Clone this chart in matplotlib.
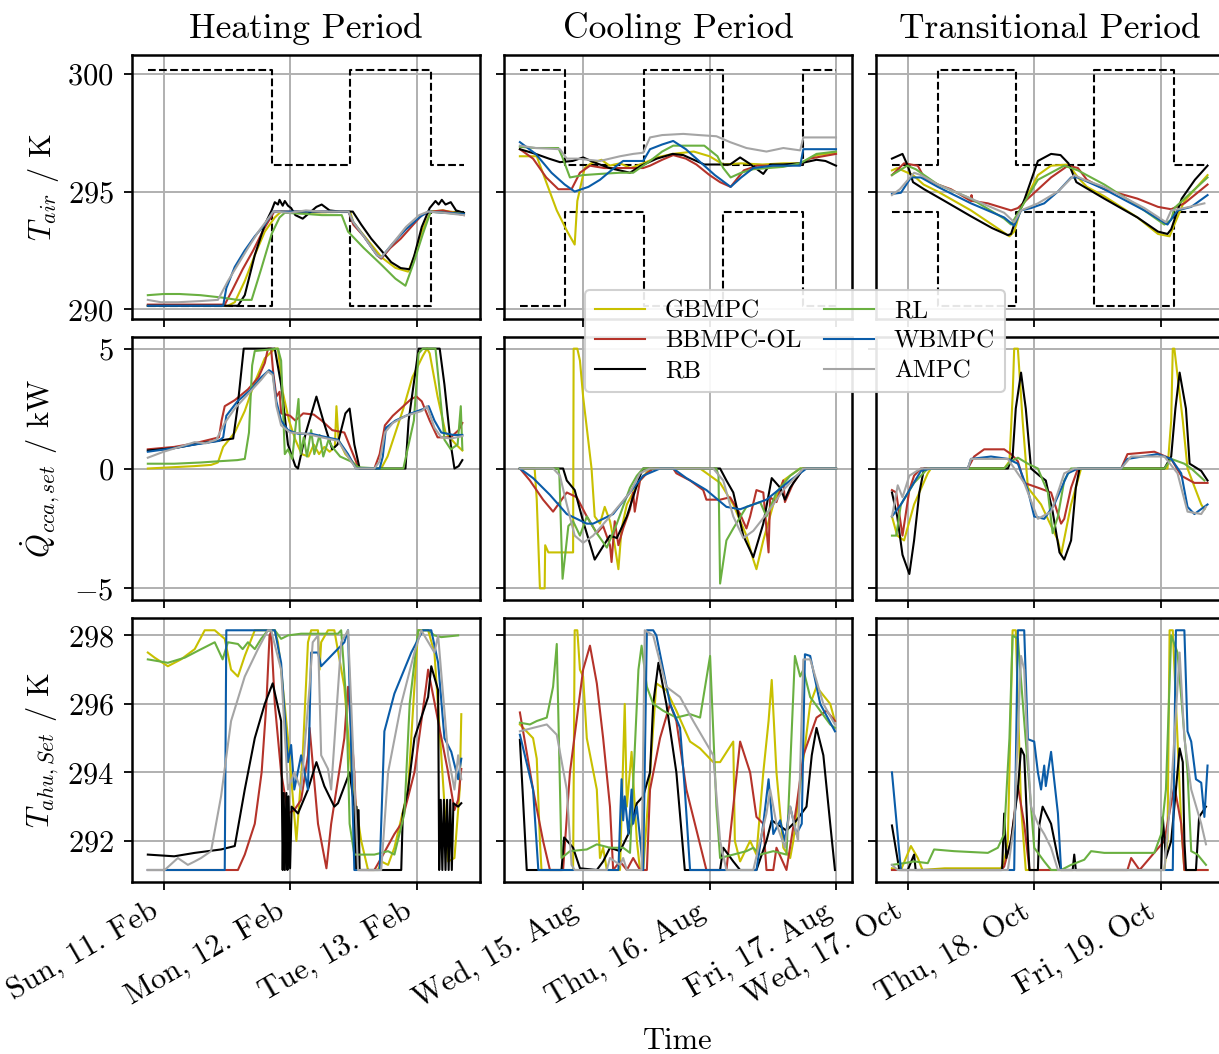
import numpy as np
import matplotlib
matplotlib.use("Agg")
import matplotlib.pyplot as plt
import matplotlib.dates as mdates

plt.rcParams.update({
    "font.family": "serif",
    "font.serif": ["cmr10"],
    "mathtext.fontset": "cm",
    "axes.formatter.use_mathtext": True,
    "axes.linewidth": 1.8,
    "xtick.major.width": 1.3,
    "ytick.major.width": 1.3,
    "xtick.major.size": 6,
    "ytick.major.size": 6,
    "xtick.major.pad": 5,
    "ytick.major.pad": 7,
    "xtick.labelsize": 22,
    "ytick.labelsize": 22,
})

# controllers and colours
controllers = ["GBMPC", "BBMPC-OL", "RB", "RL", "WBMPC", "AMPC"]
colors = ["#c8c000", "#b5332a", "#000000", "#6ab041", "#0a5ca8", "#a5a5a5"]

# start of each period, all series are given in hours after this start
starts = ["2018-02-10T21:00", "2018-08-14T12:00", "2018-10-16T21:00"]
titles = ["Heating Period", "Cooling Period", "Transitional Period"]

# comfort bounds (hour, value), step after
upper_heat = [(0, 300.15), (23.5, 296.15), (38.4, 300.15), (53.7, 296.15), (60, 296.15)]
lower_heat = [(0, 290.15), (23.5, 294.15), (38.4, 290.15), (53.7, 294.15), (60, 294.15)]
upper_cool = [(0, 300.15), (8.5, 296.15), (23.6, 300.15), (38.5, 296.15), (53.7, 300.15), (60, 300.15)]
lower_cool = [(0, 290.15), (8.5, 294.15), (23.6, 290.15), (38.5, 294.15), (53.7, 290.15), (60, 290.15)]
upper_trans = [(0, 296.15), (8.7, 300.15), (23.5, 296.15), (38.4, 300.15), (53.5, 296.15), (60, 296.15)]
lower_trans = [(0, 294.15), (8.7, 290.15), (23.5, 294.15), (38.4, 290.15), (53.5, 294.15), (60, 294.15)]

# ---------------- room air temperature / K ----------------
tair_heat = {
    "GBMPC": [(0, 290.15), (15.2, 290.15), (16.5, 290.3), (18.4, 291.2), (20.3, 292.3), (22.2, 293.3), (24.1, 293.9),
              (25.3, 294.15), (30, 294.1), (38.4, 294.15), (39.0, 293.7), (41.5, 293.0), (44.4, 292.2), (47, 291.76),
              (49.4, 291.6), (50.5, 292.2), (52, 293.3), (53.7, 294.15), (56, 294.2), (60, 294.05)],
    "BBMPC-OL": [(0, 290.2), (14.6, 290.2), (16.0, 290.8), (18.0, 291.7), (20.0, 292.5), (22.0, 293.4), (24.0, 294.15),
                 (30, 294.15), (38.1, 294.15), (39.0, 293.6), (41.0, 293.1), (43.5, 292.3), (44.3, 292.15), (46.0, 292.6),
                 (48.0, 293.0), (50.0, 293.5), (52.0, 294.0), (53.8, 294.15), (56, 294.2), (60, 294.0)],
    "RB": [(0, 290.15), (17.1, 290.15), (18.4, 290.6), (20.3, 292.3), (22.2, 293.6), (23.5, 294.2), (24.1, 294.55),
           (24.7, 294.45), (25.0, 294.65), (25.6, 294.4), (26.0, 294.6), (26.6, 294.4), (27.2, 294.3), (28.0, 294.0),
           (29.4, 293.85), (30.7, 294.1), (32.0, 294.35), (33.0, 294.45), (34.5, 294.2), (36.5, 294.15), (38.9, 294.15),
           (40.5, 293.6), (42.4, 293.0), (44.3, 292.5), (46.2, 292.0), (48.0, 291.75), (49.7, 291.7), (50.6, 292.3),
           (52.0, 293.5), (53.5, 294.3), (54.6, 294.6), (55.2, 294.45), (55.8, 294.65), (56.5, 294.45), (57.5, 294.55),
           (58.5, 294.2), (60, 294.1)],
    "RL": [(0, 290.6), (3, 290.65), (6, 290.65), (10, 290.6), (14, 290.5), (17, 290.4), (19.7, 290.4), (21.5, 291.7),
           (23.5, 293.2), (25.0, 293.9), (26.0, 294.1), (30, 294.05), (33, 294.0), (36.8, 294.0), (38.0, 293.3),
           (41.0, 292.6), (44.3, 291.9), (47.0, 291.3), (48.9, 291.0), (50.5, 292.0), (52.2, 293.2), (53.7, 294.15),
           (56, 294.1), (60, 294.05)],
    "WBMPC": [(0, 290.15), (14.3, 290.15), (14.9, 290.9), (16.5, 291.8), (18.4, 292.5), (20.3, 293.1), (22.2, 293.6),
              (23.8, 294.15), (38.1, 294.15), (39.0, 293.7), (41.0, 293.1), (43.5, 292.3), (44.3, 292.2), (46.5, 292.8),
              (49.0, 293.4), (51.5, 293.9), (53.2, 294.15), (60, 294.05)],
    "AMPC": [(0, 290.4), (2.5, 290.3), (5.7, 290.3), (10, 290.35), (13.3, 290.4), (15.2, 291.2), (17.1, 291.9),
             (19.0, 292.6), (21.0, 293.3), (23.0, 293.9), (23.8, 294.15), (27, 294.1), (30, 294.2), (33, 294.15),
             (38.1, 294.15), (39.0, 293.7), (41.0, 293.1), (43.5, 292.3), (44.3, 292.2), (46.5, 292.8), (49.0, 293.5),
             (51.5, 294.0), (53.2, 294.15), (56, 294.1), (60, 294.0)],
}

tair_cool = {
    "GBMPC": [(0, 296.5), (3.2, 296.5), (5.0, 295.4), (7.0, 294.2), (9.0, 293.3), (10.4, 292.75), (10.9, 294.6),
              (12.3, 296.0), (13.5, 296.2), (15.5, 296.35), (17, 296.1), (19, 296.2), (21, 296.0), (23.4, 296.2),
              (26, 296.45), (29, 296.6), (33, 296.7), (36, 296.5), (38.6, 296.15), (42, 296.2), (46, 296.15),
              (50, 296.2), (53.2, 296.2), (56.3, 296.55), (60, 296.65)],
    "BBMPC-OL": [(0, 296.8), (2.5, 296.4), (5, 295.6), (7.3, 295.1), (9.8, 295.1), (11.4, 295.8), (13.3, 296.1),
                 (16, 296.0), (20, 296.0), (23.4, 296.0), (24.7, 296.1), (27, 296.35), (29.1, 296.55), (31.5, 296.4),
                 (33.5, 296.15), (36, 295.7), (38, 295.4), (40, 295.2), (42.5, 295.9), (45, 296.1), (50, 296.1),
                 (53.2, 296.15), (55, 296.4), (60, 296.6)],
    "RB": [(0, 296.8), (3, 296.6), (5.5, 296.4), (7.6, 296.25), (10, 296.3), (12, 296.45), (14, 296.25), (17, 296.0),
           (20.9, 295.8), (23, 296.1), (26, 296.4), (29, 296.6), (31, 296.55), (33.5, 296.3), (35, 296.15),
           (39.9, 296.15), (41.8, 296.45), (43.5, 296.2), (46.2, 295.75), (47.5, 296.15), (50, 296.15),
           (53.2, 296.2), (56.3, 296.35), (58, 296.3), (60, 296.1)],
    "RL": [(0, 296.9), (3, 296.85), (7.3, 296.85), (8.0, 296.5), (9.5, 295.6), (12, 295.7), (15.2, 295.75),
           (19, 295.8), (21.5, 295.8), (23.4, 296.1), (24.7, 296.3), (27, 296.7), (29.1, 296.95), (35, 296.95),
           (37.5, 296.5), (38.6, 296.0), (40, 295.6), (42, 295.8), (44.3, 295.95), (50, 296.05), (53.2, 296.2),
           (56.3, 296.6), (60, 296.7)],
    "WBMPC": [(0, 297.1), (3, 296.6), (6, 295.8), (8.5, 295.3), (10.4, 295.0), (13, 295.2), (15.2, 295.5),
              (18.4, 296.1), (19.6, 296.3), (23.4, 296.3), (24.7, 296.8), (27, 297.0), (29.1, 297.15), (31.5, 296.8),
              (34, 296.3), (37, 295.7), (40, 295.2), (42, 295.6), (44.3, 296.0), (48, 296.1), (53.2, 296.1),
              (53.8, 296.8), (60, 296.8)],
    "AMPC": [(0, 296.95), (3, 296.85), (7.6, 296.8), (8.9, 296.4), (10.8, 296.4), (15.2, 296.3), (19, 296.5),
             (21.5, 296.6), (23.4, 296.65), (24.7, 297.3), (27, 297.4), (31, 297.45), (34, 297.4), (37.3, 297.35),
             (39.9, 297.1), (43, 296.85), (46.8, 296.7), (50, 296.85), (53.2, 296.75), (53.8, 297.3), (60, 297.3)],
}

tair_trans = {
    "GBMPC": [(0, 295.9), (1.0, 296.0), (2.5, 295.85), (4.0, 295.7), (6, 295.3), (8.7, 295.0), (15, 294.2),
              (19, 293.6), (22.3, 293.1), (23.2, 293.3), (24.5, 294.3), (27.7, 295.7), (30.2, 296.1), (33.5, 296.15),
              (35.3, 295.6), (37, 295.2), (40.3, 294.8), (46.6, 293.9), (50.5, 293.2), (52.7, 293.1), (53.6, 293.6),
              (55.5, 294.6), (59.9, 295.7)],
    "BBMPC-OL": [(0, 295.7), (2.3, 296.2), (4.9, 296.1), (6.1, 295.6), (8.7, 295.3), (11.2, 295.1), (15, 294.6),
                 (15.1, 294.85), (15.3, 294.6), (18.2, 294.5), (22.6, 294.2), (23.9, 294.3), (25.8, 294.7),
                 (30.2, 295.6), (33.4, 296.1), (35.3, 296.0), (37, 295.5), (40.3, 295.1), (46.6, 294.7),
                 (50.5, 294.35), (53.0, 294.25), (55.5, 294.5), (59.9, 295.3)],
    "RB": [(0, 296.4), (1.0, 296.5), (2.0, 296.6), (3.0, 296.1), (4.0, 295.4), (6.1, 295.1), (10, 294.6),
           (15, 293.95), (19, 293.45), (22.0, 293.15), (22.6, 293.2), (23.2, 293.6), (25.2, 294.7), (27.7, 296.3),
           (30.2, 296.6), (32.0, 296.55), (33.5, 296.2), (35, 295.4), (36.5, 295.2), (40.3, 294.7), (46.6, 293.9),
           (50.5, 293.3), (52.3, 293.2), (53.0, 293.4), (55.0, 294.7), (57.5, 295.5), (59.9, 296.1)],
    "RL": [(0, 295.7), (2.9, 296.1), (4.5, 295.95), (8.7, 295.3), (15, 294.7), (21.3, 293.85), (22.6, 293.6),
           (24.5, 294.3), (27.7, 295.5), (32.7, 296.1), (35.3, 295.9), (40.3, 295.3), (46.6, 294.4), (51.7, 293.6),
           (53.0, 293.8), (53.6, 294.3), (59.9, 295.6)],
    "WBMPC": [(0, 294.9), (1.7, 294.95), (3.6, 295.6), (5.5, 295.6), (8.7, 295.2), (15, 294.5), (21.3, 293.9),
              (23.2, 293.55), (24.5, 294.2), (26.4, 294.3), (28.9, 294.5), (31.5, 295.0), (34.0, 295.6),
              (35.3, 295.6), (40.3, 295.1), (47.9, 294.2), (52.3, 293.6), (54.2, 294.2), (56.8, 294.35),
              (59.9, 294.85)],
    "AMPC": [(0, 294.85), (1.5, 295.1), (4.2, 295.8), (5.5, 295.7), (8.7, 295.3), (15, 294.7), (21.3, 294.1),
             (23.2, 293.7), (24.5, 294.2), (27.7, 294.5), (31.5, 295.0), (34.6, 295.7), (36.5, 295.5), (40.3, 295.2),
             (47.9, 294.3), (52.0, 293.7), (53.0, 294.2), (55.5, 294.3), (59.3, 294.5)],
}

# ---------------- concrete core activation heat flow / kW ----------------
q_heat = {
    "GBMPC": [(0, 0.0), (8.9, 0.1), (12.0, 0.15), (13.3, 0.25), (14.3, 0.9), (16.5, 1.5), (18.4, 2.4), (20.3, 3.6),
              (22.2, 4.6), (24.1, 5.0), (24.7, 5.0), (25.6, 3.2), (26.8, 2.0), (28, 1.2), (29.2, 0.6), (30.5, 0.5),
              (31.5, 1.0), (32.5, 0.6), (33.5, 0.9), (34.5, 0.7), (35.5, 0.9), (35.8, 2.6), (36.2, 1.2), (37.5, 0.6),
              (39.2, 0.2), (40.2, 0), (44.3, 0), (45.5, 0.5), (47, 1.5), (48.5, 2.5), (50.2, 3.8), (52.2, 4.7),
              (53.0, 5.0), (53.5, 4.8), (55, 3.0), (56.5, 1.5), (58.5, 1.0), (59.7, 0.75)],
    "BBMPC-OL": [(0, 0.8), (5, 0.9), (8.9, 1.05), (13.5, 1.3), (14.0, 2.0), (14.6, 2.6), (16.5, 2.85), (19, 3.3),
                 (21.0, 3.8), (22.2, 4.4), (22.8, 5.0), (23.4, 5.0), (23.8, 4.0), (24.4, 3.0), (25.0, 3.2),
                 (25.3, 2.3), (27, 2.2), (28, 2.0), (29.5, 2.3), (31.5, 2.25), (33, 2.0), (35, 1.6), (37.3, 1.5),
                 (39.5, 0.3), (40.0, 0), (43.0, 0), (44.0, 0.6), (45.0, 1.8), (46.5, 2.2), (48.5, 2.6), (50.0, 2.9),
                 (51.0, 3.0), (52.0, 2.8), (53.5, 2.0), (55.0, 1.3), (57.5, 1.3), (59.0, 1.6), (59.7, 1.9)],
    "RB": [(0, 0.75), (5, 0.85), (10, 1.05), (16.2, 1.25), (17.0, 2.5), (18.2, 5), (24.1, 5), (25.3, 3.5),
           (26.6, 1.0), (28.0, 0.1), (28.5, 0), (30.0, 1.5), (32.0, 3.0), (33.3, 2.0), (35.0, 0.8), (36.0, 1.0),
           (37.5, 2.3), (38.3, 2.5), (39.2, 1.0), (40.2, 0), (48.9, 0), (49.5, 2.0), (51.4, 5), (55.4, 5),
           (56.3, 3.5), (57.5, 1.0), (58.2, 0), (59, 0.1), (59.7, 0.35)],
    "RL": [(0, 0.2), (5, 0.2), (10, 0.25), (13.3, 0.3), (17, 0.35), (18.4, 0.4), (19.2, 1.5), (19.8, 4.3),
           (20.3, 4.9), (24.7, 5), (25.3, 4.5), (26.0, 0.6), (26.6, 0.8), (27.4, 0.4), (28.6, 2.9), (29.0, 0.6),
           (29.6, 1.3), (30.2, 0.5), (31.0, 1.6), (31.6, 0.6), (32.6, 1.4), (33.3, 0.5), (34.3, 1.2), (35.0, 0.9),
           (36.5, 0.5), (38.5, 0.3), (40, 0.05), (44, 0), (48.5, 0), (50.5, 2.0), (51.4, 4.8), (52.2, 5.0),
           (54.6, 5.0), (55.5, 3.0), (56.3, 1.2), (57.5, 0.8), (58.8, 1.0), (59.4, 2.6), (59.7, 0.8)],
    "WBMPC": [(0, 0.7), (5, 0.85), (8.9, 1.0), (13.5, 1.15), (14.3, 1.3), (14.9, 2.2), (17, 2.8), (19.6, 3.3),
              (21.5, 3.8), (23.0, 4.1), (23.7, 4.0), (24.4, 2.8), (25.3, 2.0), (26.6, 1.6), (28.5, 1.45), (31, 1.45),
              (33, 1.35), (36.1, 1.2), (38.0, 0.6), (39.5, 0), (44.0, 0), (44.6, 0.5), (45.2, 1.7), (47, 2.0),
              (50, 2.3), (52.5, 2.5), (53.3, 2.6), (54.4, 2.0), (55.7, 1.5), (58, 1.4), (59.7, 1.4)],
    "AMPC": [(0, 0.45), (3, 0.7), (6, 0.9), (8.9, 1.1), (11, 1.05), (13, 1.2), (14.6, 1.9), (16.5, 2.5), (19, 3.1),
             (21.5, 3.7), (22.8, 4.05), (23.7, 3.9), (24.4, 2.6), (25.3, 1.8), (27, 1.5), (30, 1.45), (33, 1.3),
             (36.1, 1.15), (38.0, 0.5), (39.5, 0), (43, 0), (44.0, 0.3), (45.0, 1.5), (46.5, 1.9), (49, 2.2),
             (52, 2.4), (53.0, 2.6), (54.4, 1.7), (55.7, 1.3), (57.5, 1.25), (59.7, 1.35)],
}

q_cool = {
    "GBMPC": [(0, 0), (2.8, 0), (3.2, -1.3), (3.8, -5), (4.7, -5), (4.8, -3.2), (5.4, -3.5), (10.1, -3.5),
              (10.2, 5), (10.9, 5), (11.4, 4.5), (12.0, 3.0), (12.8, 1.5), (13.6, 0), (14.2, -2.0), (15.2, -2.3),
              (16.1, -1.6), (17.1, -2.2), (18.0, -3.2), (18.7, -4.2), (19.3, -2.5), (20.3, -1.5), (21.5, -1.0),
              (22.8, -0.5), (24.7, 0), (34.2, 0), (36.1, -0.3), (38.0, -0.6), (40.5, -1.5), (43.0, -2.8),
              (44.3, -3.8), (44.9, -4.2), (46.2, -3.0), (48.1, -1.5), (50.0, -0.5), (51.9, -0.2), (53.2, 0), (60, 0)],
    "BBMPC-OL": [(0, 0), (1.9, -0.5), (4.4, -1.3), (6.3, -1.8), (7.6, -1.4), (8.9, -1.0), (10.8, -1.2),
                 (12.7, -2.0), (14.6, -2.7), (15.8, -2.4), (17.1, -3.2), (17.4, -3.9), (18.0, -2.2), (18.7, -3.2),
                 (19.6, -2.5), (20.9, -1.7), (21.5, -1.0), (21.8, -1.8), (22.8, -0.5), (24.1, -0.2), (25.3, 0),
                 (29.1, 0), (29.7, -0.2), (32.3, -0.5), (34.8, -0.9), (35.4, -1.3), (38.0, -1.3), (39.9, -1.2),
                 (41.8, -1.9), (43.0, -2.5), (43.7, -2.0), (44.9, -0.9), (46.2, -1.0), (47.2, -3.5), (47.5, -1.2),
                 (48.7, -1.4), (50.0, -0.5), (50.3, -1.4), (51.9, -0.6), (53.8, 0), (60, 0)],
    "RB": [(0, 0), (8.2, 0), (8.9, -0.5), (10.4, -0.9), (12.0, -2.2), (14.2, -3.8), (16.5, -3.0), (17.1, -2.8),
           (18.4, -2.9), (20.3, -2.0), (22.8, -0.3), (23.4, 0), (38.0, 0), (39.2, -0.5), (40.5, -1.0), (42.4, -2.8),
           (44.3, -3.7), (46.2, -2.3), (47.8, -0.4), (49.4, -0.8), (50.3, -1.3), (51.3, -0.8), (53.2, -0.2),
           (53.8, 0), (60, 0)],
    "RL": [(0, 0), (7.3, 0), (7.5, -0.3), (8.1, -4.6), (9.2, -2.4), (10.1, -2.2), (11.4, -2.8), (12.7, -2.0),
           (14.6, -2.7), (16.5, -3.3), (18.4, -2.3), (20.9, -0.8), (22.2, -0.3), (23.4, 0), (37.3, 0), (37.7, -0.3),
           (38.0, -4.8), (39.2, -3.0), (40.5, -2.5), (43.0, -1.6), (45.6, -1.4), (46.8, -2.0), (48.7, -1.0),
           (51.3, -0.3), (53.2, 0), (60, 0)],
    "WBMPC": [(0, 0), (2.5, -0.4), (5.7, -1.1), (8.9, -1.9), (12.7, -2.3), (13.9, -2.3), (17.7, -1.9), (20.9, -1.0),
              (23.4, -0.3), (26.6, 0), (29.1, 0), (31.6, -0.4), (35.4, -0.9), (39.2, -1.6), (41.8, -1.7),
              (46.8, -1.3), (51.3, -0.5), (54.4, 0), (60, 0)],
    "AMPC": [(0, 0), (6.3, 0), (7.6, -0.3), (8.9, -1.5), (10.4, -2.8), (12.0, -3.1), (13.9, -2.8), (17.1, -2.0),
             (20.9, -1.0), (22.8, -0.2), (24.7, 0), (36.7, 0), (38.6, -0.5), (40.5, -2.0), (42.4, -2.9),
             (44.3, -2.6), (46.8, -1.9), (50.0, -0.9), (53.8, 0), (60, 0)],
}

q_trans = {
    "GBMPC": [(0, -2.0), (1.0, -2.8), (2.3, -3.0), (4.2, -1.5), (6.8, -0.2), (7.4, 0), (21.3, 0), (22.3, 0.3),
              (22.9, 3.0), (23.2, 5), (23.9, 5), (24.8, 2.0), (25.8, -0.8), (28.3, -1.5), (31.5, -3.0), (32.1, -3.6),
              (34.0, -1.5), (35.9, 0), (52.3, 0), (53.0, 2.0), (53.3, 5), (53.6, 5), (55.2, 2.0), (56.1, 0),
              (58.7, -1.5), (59.3, -1.7)],
    "BBMPC-OL": [(0, -0.9), (0.8, -1.0), (2.0, -2.8), (3.3, -0.9), (4.2, -0.3), (5.5, 0), (14.4, 0), (15.6, 0.5),
                 (17.5, 0.8), (21.3, 0.8), (22.6, 0.6), (23.9, 0.3), (25.1, -0.6), (27.7, -0.8), (30.2, -1.0),
                 (32.1, -2.3), (32.7, -2.1), (34.0, -0.8), (35.3, 0), (43.5, 0), (44.7, 0.6), (49.8, 0.7),
                 (53.0, 0.4), (54.9, -0.3), (57.4, -0.6), (59.9, -0.6)],
    "RB": [(0, -1.0), (1.0, -2.0), (2.0, -3.6), (3.3, -4.4), (4.2, -3.0), (5.2, -1.0), (6.1, 0), (22.0, 0),
           (22.9, 0.5), (23.5, 2.5), (24.5, 4.0), (25.4, 2.5), (26.4, 0), (28.0, -0.3), (29.2, -0.5), (30.5, -1.8),
           (31.8, -3.5), (32.7, -3.8), (34.0, -3.0), (34.9, -0.8), (35.6, 0), (51.7, 0), (53.0, 0.5), (53.8, 2.5),
           (54.6, 4.0), (55.8, 2.5), (56.5, 0.2), (58.7, -0.1), (59.9, -0.5)],
    "RL": [(0, -2.8), (0.8, -2.8), (1.7, -1.5), (4.2, -0.6), (6.8, 0), (21.3, 0), (22.6, 0.3), (23.9, 0.45),
           (25.8, 0.2), (27.7, 0), (29.6, -1.0), (30.5, -2.7), (31.5, -2.0), (32.7, -0.5), (34.0, 0), (51.7, 0),
           (53.0, 0.4), (55.5, 0.2), (56.8, 0), (59.3, -0.5)],
    "WBMPC": [(0, -2.0), (1.7, -1.5), (3.6, -0.8), (5.5, -0.1), (7.4, 0), (14.4, 0), (15.0, 0.4), (18.8, 0.5),
              (22.0, 0.4), (23.9, 0.2), (25.8, -0.9), (27.0, -2.0), (28.9, -2.1), (30.8, -1.5), (33.4, -0.2),
              (35.3, 0), (43.5, 0), (44.7, 0.4), (50.4, 0.6), (53.0, 0.4), (54.9, -0.2), (56.1, -1.6), (57.4, -1.9),
              (59.9, -1.5)],
    "AMPC": [(0, -2.0), (1.1, -0.7), (2.0, -1.2), (3.3, -0.3), (5.5, 0), (14.4, 0), (15.0, 0.4), (22.0, 0.4),
             (25.1, -0.6), (27.7, -2.1), (30.2, -1.8), (31.5, -1.0), (32.7, -0.2), (34.6, 0), (43.5, 0), (45.4, 0.5),
             (51.7, 0.5), (54.2, -0.2), (56.1, -1.8), (58.7, -1.9), (59.6, -1.6)],
}

# ---------------- AHU supply temperature set point / K ----------------
tahu_heat = {
    "GBMPC": [(0, 297.5), (1.3, 297.35), (3.8, 297.1), (6.3, 297.3), (8.9, 297.6), (10.8, 298.15), (12.7, 298.15),
              (14.6, 297.9), (15.8, 297.0), (17.1, 296.8), (18.4, 297.4), (20.3, 298.15), (24.1, 298.15),
              (24.7, 297.8), (25.3, 297.0), (26.6, 295.0), (28.2, 292.0), (29.4, 294.5), (30.4, 297.8),
              (31.0, 298.15), (32.3, 298.15), (32.6, 297.0), (32.9, 297.8), (34.2, 298.15), (35.4, 298.15),
              (37.3, 296.5), (38.6, 294.0), (40.5, 292.0), (41.8, 291.15), (43.7, 291.15), (44.3, 291.4),
              (45.6, 291.3), (46.8, 291.8), (49.4, 293.5), (50.6, 296.5), (51.3, 298.15), (53.2, 298.15),
              (54.4, 297.5), (55.7, 294.5), (57.0, 291.4), (58.2, 291.5), (59.2, 293.5), (59.5, 295.7)],
    "BBMPC-OL": [(0, 291.15), (17.1, 291.15), (18.4, 291.6), (20.3, 292.5), (21.6, 294.0), (22.5, 296.0),
                 (23.1, 298.0), (23.4, 298.1), (24.1, 296.0), (25.3, 294.0), (26.6, 292.8), (27.8, 292.9),
                 (29.1, 293.2), (30.4, 294.5), (30.7, 295.3), (32.3, 292.5), (33.9, 291.2), (34.8, 292.5),
                 (37.3, 295.0), (38.0, 296.5), (39.2, 294.0), (39.9, 291.15), (43.0, 291.15), (44.3, 291.5),
                 (46.8, 292.2), (48.1, 292.5), (50.6, 294.0), (52.8, 296.5), (53.2, 297.0), (55.1, 295.5),
                 (57.0, 294.0), (58.2, 292.9), (58.9, 293.2), (59.5, 294.1)],
    "RB": [(0, 291.6), (5, 291.55), (8.9, 291.65), (13.9, 291.75), (16.5, 291.85), (18.4, 293.5), (20.3, 295.0),
           (22.2, 296.0), (23.7, 296.6), (25.3, 295.5), (25.6, 291.15), (25.8, 293.4), (26.0, 291.15), (26.3, 293.4),
           (26.5, 291.15), (26.7, 293.3), (27.0, 291.2), (27.3, 293.0), (28.5, 292.8), (30.4, 293.5), (32.0, 294.3),
           (33.5, 293.6), (35.4, 293.0), (36.1, 293.1), (38.3, 294.0), (39.2, 293.0), (39.4, 291.15), (39.6, 293.0),
           (39.8, 291.15), (40.0, 292.9), (40.2, 291.15), (48.1, 291.15), (48.4, 292.8), (49.4, 293.5),
           (50.6, 295.0), (53.2, 296.2), (53.8, 297.1), (55.1, 296.4), (55.3, 291.15), (55.6, 293.2), (55.9, 291.15),
           (56.2, 293.2), (56.5, 291.15), (56.8, 293.2), (57.1, 291.15), (57.4, 293.2), (57.7, 291.15),
           (58.0, 293.1), (58.9, 293.0), (59.5, 293.1)],
    "RL": [(0, 297.3), (3.8, 297.2), (7.0, 297.35), (9.5, 297.55), (12.7, 297.8), (14.2, 297.3), (15.2, 297.8),
           (17.1, 297.75), (18.0, 297.6), (19.0, 297.8), (20.3, 297.6), (21.5, 297.9), (22.8, 298.15), (24.1, 298.15),
           (25.3, 297.9), (26.6, 298.0), (29.1, 298.05), (36.1, 298.05), (36.7, 298.15), (37.7, 296.0),
           (38.3, 292.5), (39.2, 291.6), (43.0, 291.6), (45.6, 291.7), (46.8, 291.6), (48.7, 292.8), (49.7, 296.0),
           (51.3, 298.15), (53.2, 298.15), (54.4, 298.0), (55.7, 297.95), (58.9, 298.0)],
    "WBMPC": [(0, 291.15), (14.6, 291.15), (14.9, 298.15), (24.1, 298.15), (25.3, 297.2), (26.6, 294.3),
              (27.2, 294.8), (27.8, 293.5), (29.1, 294.5), (30.4, 293.5), (31.0, 297.5), (32.3, 297.5),
              (32.9, 297.1), (35.4, 297.5), (37.3, 297.8), (38.0, 298.15), (39.2, 291.15), (44.0, 291.15),
              (44.9, 295.2), (46.8, 296.3), (50.0, 297.5), (52.2, 298.15), (53.8, 298.15), (55.1, 297.2),
              (56.3, 295.0), (57.6, 294.6), (58.9, 293.8), (59.5, 294.4)],
    "AMPC": [(0, 291.15), (3.2, 291.15), (5.7, 291.5), (7.6, 291.3), (8.9, 291.4), (10.1, 291.5), (12.0, 291.7),
             (13.9, 293.3), (15.8, 295.5), (18.4, 296.8), (20.9, 297.6), (22.8, 298.15), (23.4, 298.15),
             (25.3, 297.0), (26.6, 293.5), (27.8, 294.0), (29.1, 293.5), (30.7, 296.5), (31.3, 297.8), (32.3, 298.0),
             (32.9, 294.5), (34.2, 294.1), (34.8, 293.5), (36.7, 297.8), (38.0, 298.15), (38.6, 296.0),
             (39.9, 291.15), (44.3, 291.15), (45.6, 294.0), (48.1, 296.0), (50.6, 297.5), (51.9, 298.15),
             (54.4, 297.5), (55.1, 298.0), (57.0, 294.5), (58.2, 293.5), (58.9, 294.5), (59.5, 293.8)],
}

tahu_cool = {
    "GBMPC": [(0, 295.4), (2.5, 295.0), (3.2, 294.4), (3.8, 292.0), (4.1, 291.15), (10.1, 291.15), (10.4, 298.15),
              (10.9, 298.15), (11.4, 297.0), (12.0, 296.8), (12.7, 295.0), (14.6, 293.5), (15.2, 291.5),
              (15.8, 291.8), (16.5, 291.15), (19.0, 291.15), (19.9, 296.0), (20.3, 293.0), (21.2, 294.6),
              (22.2, 292.0), (22.8, 291.15), (23.4, 291.15), (25.9, 296.6), (27.8, 296.4), (29.7, 295.8),
              (32.3, 294.9), (34.2, 294.7), (36.7, 294.3), (38.0, 294.3), (40.5, 294.9), (40.8, 292.0),
              (41.8, 291.4), (43.7, 292.0), (44.9, 291.6), (46.2, 294.0), (47.2, 295.5), (47.8, 296.7),
              (48.7, 294.0), (50.0, 291.8), (51.3, 291.5), (51.9, 292.0), (55.1, 296.0), (56.3, 296.5),
              (58.9, 296.0), (59.8, 295.5)],
    "BBMPC-OL": [(0, 295.75), (2.5, 293.5), (4.4, 292.0), (5.7, 291.15), (8.2, 291.15), (9.5, 294.0),
                 (12.0, 297.0), (13.3, 297.7), (14.6, 296.6), (15.8, 295.0), (17.1, 293.0), (17.7, 291.15),
                 (19.0, 291.4), (20.3, 291.15), (21.5, 291.5), (22.8, 291.15), (24.1, 291.15), (24.7, 293.5),
                 (26.6, 295.0), (28.5, 296.0), (29.7, 295.5), (31.6, 293.5), (35.4, 291.15), (39.2, 291.15),
                 (40.5, 293.0), (41.8, 294.9), (43.7, 294.0), (44.9, 292.7), (46.2, 292.5), (46.8, 291.15),
                 (48.1, 291.15), (48.7, 291.8), (50.6, 291.15), (52.5, 293.0), (53.8, 294.5), (56.3, 295.6),
                 (58.2, 295.8), (59.8, 295.5)],
    "RB": [(0, 294.95), (1.3, 291.15), (7.9, 291.15), (8.4, 292.1), (10.1, 291.8), (11.4, 291.2), (14.6, 291.15),
           (15.8, 291.4), (17.1, 291.8), (19.0, 291.7), (20.9, 292.3), (22.2, 293.1), (23.4, 293.3), (24.7, 294.0),
           (25.3, 296.0), (26.3, 297.2), (27.8, 296.0), (29.7, 294.0), (31.3, 291.15), (38.0, 291.15),
           (38.6, 291.8), (40.5, 291.4), (41.8, 291.15), (44.9, 291.15), (46.8, 292.0), (47.8, 292.6),
           (50.6, 292.3), (52.5, 292.6), (54.4, 293.0), (55.4, 294.5), (56.3, 295.3), (57.6, 294.5),
           (58.9, 292.5), (59.8, 291.15)],
    "RL": [(0, 295.45), (1.9, 295.4), (3.2, 295.5), (5.1, 295.6), (6.3, 296.5), (7.0, 297.75), (7.9, 291.5),
           (9.5, 291.7), (12.7, 291.75), (14.6, 291.9), (17.1, 291.8), (19.6, 291.8), (20.9, 291.65), (22.5, 297.0),
           (23.1, 297.7), (24.1, 296.5), (25.3, 296.0), (27.2, 295.8), (29.7, 295.6), (32.3, 295.7), (34.2, 295.6),
           (36.1, 297.4), (37.3, 293.0), (38.0, 291.5), (40.5, 291.6), (43.0, 291.7), (44.3, 291.8), (45.6, 291.6),
           (48.1, 291.7), (50.6, 291.6), (52.2, 297.4), (53.2, 296.8), (53.8, 297.0), (55.1, 296.2), (58.9, 295.4),
           (59.8, 295.3)],
    "WBMPC": [(0, 295.1), (2.5, 293.5), (3.5, 291.15), (18.7, 291.15), (19.0, 292.5), (19.3, 293.8), (19.6, 292.6),
              (19.9, 293.3), (20.6, 292.2), (21.2, 293.5), (21.5, 292.5), (22.2, 293.0), (23.4, 291.15),
              (24.1, 298.15), (25.3, 298.15), (25.9, 298.0), (28.5, 296.0), (30.4, 295.3), (31.3, 293.5),
              (32.3, 291.15), (44.9, 291.15), (46.2, 292.5), (47.2, 293.8), (48.1, 292.2), (49.4, 292.6),
              (50.3, 292.0), (51.3, 293.0), (52.5, 292.2), (53.5, 292.5), (54.1, 297.45), (55.1, 297.4),
              (57.0, 296.0), (59.8, 295.2)],
    "AMPC": [(0, 295.2), (2.5, 295.3), (5.1, 295.4), (7.0, 295.1), (8.9, 293.5), (9.8, 291.3), (10.4, 291.15),
             (16.5, 291.15), (17.1, 291.5), (19.0, 291.3), (19.6, 291.5), (20.3, 291.15), (23.1, 291.15),
             (23.7, 298.15), (25.3, 298.0), (27.8, 296.5), (30.4, 296.2), (32.9, 295.5), (36.7, 294.5), (38.0, 292.0),
             (39.2, 291.15), (44.3, 291.15), (46.8, 292.8), (47.5, 293.5), (48.7, 292.5), (50.3, 291.8),
             (51.3, 293.0), (52.8, 292.0), (53.8, 297.3), (55.1, 297.3), (57.6, 296.0), (59.8, 295.4)],
}

tahu_trans = {
    "GBMPC": [(0, 291.2), (1.7, 291.15), (3.6, 291.85), (4.9, 291.5), (5.8, 291.15), (10, 291.2), (20.7, 291.2),
              (21.3, 291.4), (22.0, 292.0), (22.9, 298.15), (23.5, 298.15), (24.5, 293.0), (25.4, 291.15),
              (51.7, 291.15), (52.3, 292.0), (52.7, 298.15), (53.3, 298.15), (54.9, 292.5), (55.5, 291.15),
              (59.9, 291.15)],
    "BBMPC-OL": [(0, 291.15), (20.7, 291.15), (21.3, 291.25), (22.6, 292.0), (23.9, 293.6), (25.1, 292.5),
                 (26.1, 291.15), (44.7, 291.15), (45.4, 291.5), (47.0, 291.15), (51.7, 292.0), (53.6, 293.6),
                 (54.9, 292.5), (55.5, 291.15), (59.9, 291.15)],
    "RB": [(0, 292.45), (1.4, 291.15), (3.0, 291.15), (4.2, 291.6), (4.5, 291.15), (20.9, 291.15), (21.3, 292.8),
           (21.7, 291.5), (22.6, 292.0), (23.9, 293.5), (24.5, 294.7), (25.1, 294.5), (25.8, 292.0), (26.1, 291.15),
           (27.7, 291.15), (28.0, 292.5), (28.6, 293.0), (30.2, 292.5), (31.5, 291.5), (32.1, 291.15),
           (34.3, 291.15), (34.6, 291.6), (34.9, 291.15), (51.1, 291.15), (51.4, 292.7), (52.0, 291.5),
           (53.0, 292.0), (53.9, 293.5), (54.6, 294.7), (55.2, 294.3), (55.5, 292.0), (55.8, 291.15),
           (57.7, 291.15), (58.3, 292.7), (59.6, 293.0)],
    "RL": [(0, 291.3), (2.3, 291.35), (4.2, 291.4), (6.8, 291.35), (8.0, 291.75), (11.8, 291.7), (18.2, 291.65),
           (20.1, 291.8), (21.3, 292.2), (22.3, 295.0), (22.9, 298.0), (23.9, 297.9), (25.1, 295.5), (26.4, 293.0),
           (27.0, 291.8), (28.9, 291.4), (30.2, 291.15), (32.1, 291.15), (34.0, 291.3), (36.5, 291.45),
           (37.8, 291.7), (40.3, 291.65), (49.8, 291.65), (51.1, 292.2), (52.0, 293.5), (53.0, 298.0),
           (54.2, 297.5), (56.1, 294.0), (56.8, 291.7), (58.0, 291.6), (59.6, 291.3)],
    "WBMPC": [(0, 294.0), (1.7, 291.15), (23.2, 291.15), (23.9, 298.15), (25.1, 298.15), (25.8, 294.97),
              (27.0, 294.9), (27.7, 294.0), (28.3, 293.5), (28.9, 294.2), (29.2, 293.6), (30.2, 294.6),
              (31.5, 292.8), (32.1, 291.15), (53.3, 291.15), (53.9, 298.15), (55.5, 298.15), (56.1, 295.2),
              (56.8, 294.9), (57.7, 293.8), (58.7, 293.7), (59.3, 292.7), (59.9, 294.2)],
    "AMPC": [(0, 291.3), (1.1, 291.15), (22.0, 291.15), (23.2, 292.5), (24.5, 297.4), (25.1, 297.0), (25.8, 294.5),
             (26.4, 293.0), (27.7, 292.5), (28.9, 292.2), (30.2, 291.8), (31.5, 291.15), (51.7, 291.15),
             (53.0, 293.5), (54.6, 297.5), (55.5, 295.0), (56.8, 293.5), (58.7, 292.5), (59.6, 291.9)],
}

rows = [
    [tair_heat, tair_cool, tair_trans],
    [q_heat, q_cool, q_trans],
    [tahu_heat, tahu_cool, tahu_trans],
]
bounds = [(upper_heat, lower_heat), (upper_cool, lower_cool), (upper_trans, lower_trans)]
ylabels = [r"$T_{air}$ / K", r"$\dot{Q}_{cca,set}$ / kW", r"$T_{ahu,Set}$ / K"]
yticks = [[290, 295, 300], [-5, 0, 5], [292, 294, 296, 298]]
ylims = [(289.6, 300.8), (-5.5, 5.5), (290.8, 298.5)]


def to_time(start, hours):
    h = np.asarray(hours, dtype=float)
    return np.datetime64(start) + (h * 3600).astype("timedelta64[s]")


fig, axes = plt.subplots(3, 3, figsize=(12.19, 10.54), dpi=100, sharex="col", sharey="row")
fig.subplots_adjust(left=0.1083, right=1.004, top=0.9478, bottom=0.1632, wspace=0.07, hspace=0.068)

handles = []
for c in range(3):
    start = starts[c]
    for r in range(3):
        ax = axes[r, c]
        ax.grid(True, color="#b0b0b0", linewidth=1.4)
        if r == 0:
            for b in bounds[c]:
                h, v = zip(*b)
                ax.plot(to_time(start, h), v, "--", color="k", linewidth=1.5, drawstyle="steps-post")
        for name, col in zip(controllers, colors):
            h, v = zip(*rows[r][c][name])
            ln, = ax.plot(to_time(start, h), v, color=col, linewidth=1.5, label=name)
            if r == 0 and c == 0:
                handles.append(ln)
        ax.set_ylim(*ylims[r])
        ax.set_yticks(yticks[r])
        if c == 0:
            ax.set_ylabel(ylabels[r], fontsize=22)
    axes[0, c].set_title(titles[c], fontsize=25.5, pad=12)
    axes[2, c].set_xlim(to_time(start, -3), to_time(start, 63))
    axes[2, c].xaxis.set_major_locator(mdates.DayLocator())
    axes[2, c].xaxis.set_major_formatter(mdates.DateFormatter("%a, %d. %b"))
    for lab in axes[2, c].get_xticklabels():
        lab.set_rotation(30)
        lab.set_ha("right")

fig.align_ylabels(axes[:, 0])
fig.text(678 / 1219, 1 - 1041 / 1054, "Time", fontsize=22, ha="center", va="center")

leg = fig.legend(handles=handles, loc="center", bbox_to_anchor=(795 / 1219, 1 - 341 / 1054), ncol=2,
                 fontsize=18, columnspacing=0.9, labelspacing=0.3, handlelength=2.0, handletextpad=0.8,
                 framealpha=0.9, edgecolor="#cccccc")
leg.get_frame().set_linewidth(1.5)

fig.savefig("out.png", dpi=100)
